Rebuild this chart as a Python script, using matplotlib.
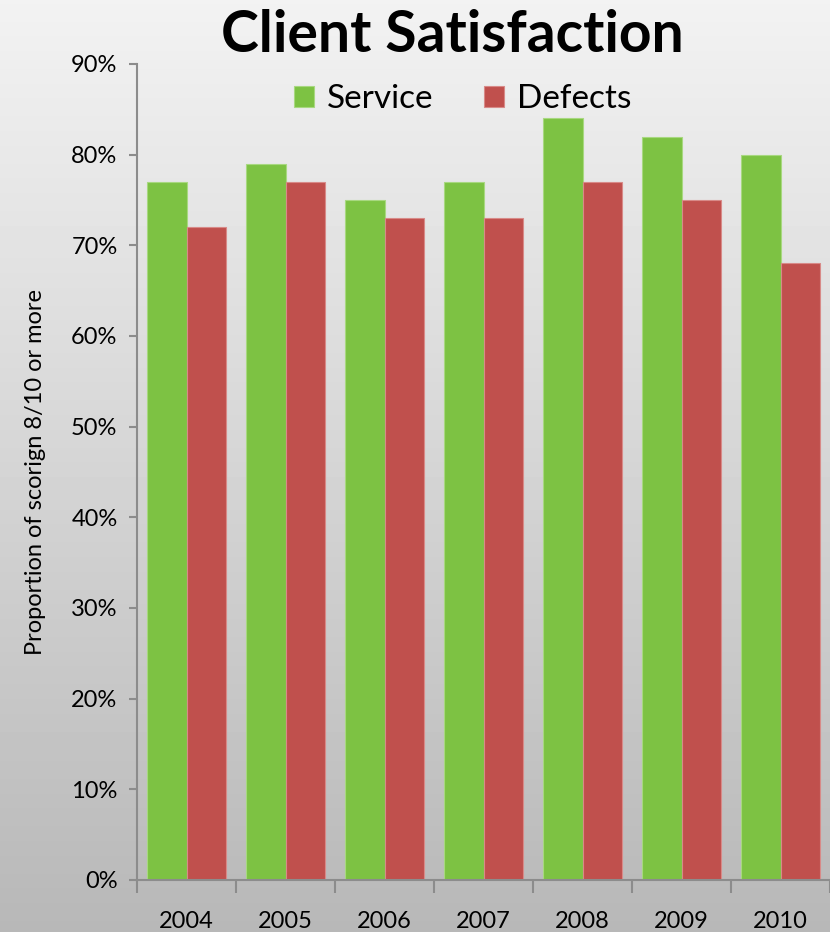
import numpy as np
import matplotlib
matplotlib.use("Agg")
import matplotlib.pyplot as plt
from matplotlib.ticker import FixedLocator, FuncFormatter

years = ["2004", "2005", "2006", "2007", "2008", "2009", "2010"]
service = [77, 79, 75, 77, 84, 82, 80]
defects = [72, 77, 73, 73, 77, 75, 68]

plt.rcParams['font.family'] = ['Lato', 'DejaVu Sans']

W, H = 830, 932
fig = plt.figure(figsize=(W / 100, H / 100), dpi=100)

# gradient background
bg = fig.add_axes([0, 0, 1, 1], zorder=-10)
grad = np.linspace(0.95, 0.72, 256).reshape(-1, 1)
bg.imshow(grad, aspect='auto', cmap='gray', vmin=0, vmax=1, extent=[0, 1, 0, 1])
bg.axis('off')

ax = fig.add_axes([137 / W, (H - 880) / H, 693 / W, (880 - 64) / H])
ax.patch.set_alpha(0)

x = np.arange(len(years))
ax.bar(x - 0.2, service, width=0.4, color='#7DC243', edgecolor='#A8D880',
       linewidth=0.8, label='Service')
ax.bar(x + 0.2, defects, width=0.4, color='#C0504D', edgecolor='#D88A88',
       linewidth=0.8, label='Defects')

ax.set_xlim(-0.5, len(years) - 0.5)
ax.set_ylim(0, 90)
ax.set_yticks(range(0, 91, 10))
ax.yaxis.set_major_formatter(FuncFormatter(lambda v, p: f"{int(v)}%"))
ax.tick_params(axis='y', direction='out', length=6, width=1.5, color='#8C8C8C',
               labelsize=17, pad=8)

ax.set_xticks(x)
ax.set_xticklabels(years)
ax.xaxis.set_minor_locator(FixedLocator(np.arange(-0.5, len(years), 1.0)))
ax.tick_params(axis='x', which='major', length=0, labelsize=17, pad=22)
ax.tick_params(axis='x', which='minor', direction='out', length=9, width=1.5,
               color='#8C8C8C')

for s in ['top', 'right']:
    ax.spines[s].set_visible(False)
for s in ['left', 'bottom']:
    ax.spines[s].set_color('#8C8C8C')
    ax.spines[s].set_linewidth(1.5)

ax.set_ylabel('Proportion of scorign 8/10 or more', fontsize=17, labelpad=18)

ax.legend(loc='upper center', bbox_to_anchor=(0.47, 1.012), ncol=2, frameon=False,
          fontsize=24, handlelength=0.6, handleheight=0.6, columnspacing=1.5,
          handletextpad=0.4)

fig.text(452 / W, 1 - 35 / H, 'Client Satisfaction', ha='center', va='center',
         fontsize=41, fontweight='bold')

fig.savefig('out.png', dpi=100)
